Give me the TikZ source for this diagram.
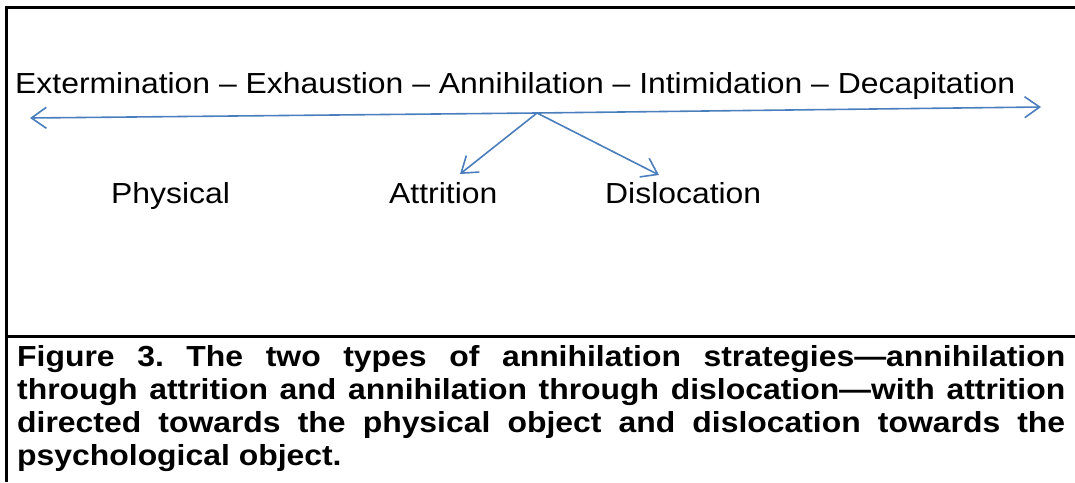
\documentclass[tikz,border=0pt]{standalone}
\usepackage{fontspec}
\setmainfont[FakeStretch=1.1]{Liberation Sans}
\usetikzlibrary{arrows.meta}
\definecolor{arrowblue}{RGB}{74,126,189}
\tikzset{
  term/.style={inner sep=0pt, anchor=base west, font=\fontsize{29}{34}\selectfont},
  blueline/.style={draw=arrowblue, line width=1.6pt},
  blueArrow/.style={blueline, -{Straight Barb[length=15pt,width=21pt,line width=1.6pt]}}
}
\begin{document}
\begin{tikzpicture}[x=1pt,y=-1pt]
\useasboundingbox (0,0) rectangle (1075,482);
\draw[line width=3pt] (1075,7) -- (6,7) -- (6,482);
\draw[line width=3pt] (6,336) -- (1075,336);
\node[term] (scale) at (15,93) {Extermination -- Exhaustion -- Annihilation -- Intimidation -- Decapitation};
\node[term] (phys) at (111,203) {Physical};
\node[term] (attr) at (389,203) {Attrition};
\node[term] (disl) at (605,203) {Dislocation};
\coordinate (lend) at (30,118);
\coordinate (rend) at (1041,107);
\coordinate (fork) at (537,113);
\coordinate (attrtip) at (460,174);
\coordinate (disltip) at (659,175);
\draw[blueArrow] (fork) -- (lend);
\draw[blueArrow] (fork) -- (rend);
\draw[blueArrow] (fork) -- (attrtip);
\draw[blueArrow] (fork) -- (disltip);
\node[inner sep=0pt, anchor=north west, text width=1048pt, align=justify,
  font=\fontsize{29}{33}\selectfont\bfseries\frenchspacing] (caption) at (17,345)
  {Figure 3. The two types of annihilation strategies---annihilation\linebreak
   through attrition and annihilation through dislocation---with attrition\linebreak
   directed towards the physical object and dislocation towards the\linebreak
   psychological object.};
\end{tikzpicture}
\end{document}
